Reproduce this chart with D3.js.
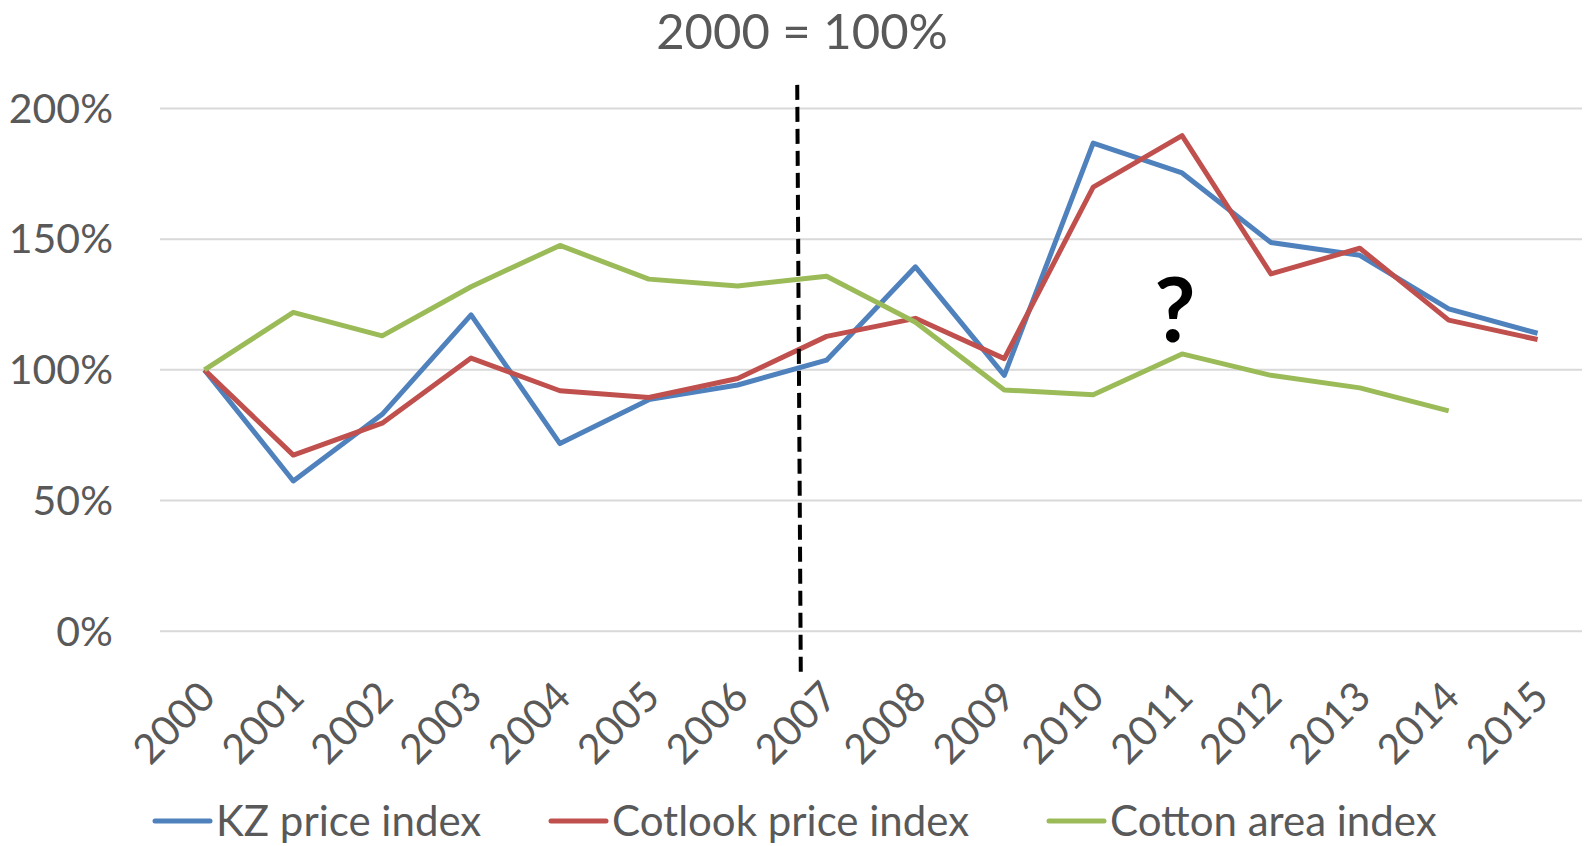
<!DOCTYPE html>
<html>
<head>
<meta charset="utf-8">
<script src="https://cdn.jsdelivr.net/npm/d3@7"></script>
<style>
  body { margin: 0; background: #fff; }
  text { font-family: Lato, "Open Sans", sans-serif; fill: #595959; }
</style>
</head>
<body>
<div class="chart"></div>
<script>
// data
var years = ["2000","2001","2002","2003","2004","2005","2006","2007","2008","2009","2010","2011","2012","2013","2014","2015"];
var kzPrice = [100, 57.5, 83, 121, 71.8, 88.6, 94.2, 103.7, 139.4, 97.9, 186.7, 175.3, 148.7, 143.8, 123.3, 114];
var cotlookPrice = [100, 67.4, 79.6, 104.5, 92, 89.4, 96.7, 112.8, 119.7, 104.3, 169.9, 189.6, 136.7, 146.5, 119, 111.6];
var cottonArea = [100, 122, 113, 131.8, 147.6, 134.7, 132.1, 135.8, 118.2, 92.3, 90.5, 106.1, 97.9, 93.1, 84.3, null];
var yTicks = [0, 50, 100, 150, 200];
var seriesNames = ["KZ price index", "Cotlook price index", "Cotton area index"];
var seriesColors = ["#4f81bd", "#c0504d", "#9bbb59"];

var width = 1589, height = 846;
var svg = d3.select(".chart").append("svg")
  .attr("width", width)
  .attr("height", height);

// scales
var x = d3.scalePoint().domain(years).range([160, 1582]).padding(0.5);
var y = d3.scaleLinear().domain([0, 200]).range([631.3, 108.4]);

// title
svg.append("text")
  .attr("x", 802).attr("y", 49)
  .attr("text-anchor", "middle")
  .style("font-size", "49px")
  .text("2000 = 100%");

// gridlines
svg.append("g").selectAll("line")
  .data(yTicks).enter().append("line")
  .attr("x1", 160).attr("x2", 1582)
  .attr("y1", d => y(d)).attr("y2", d => y(d))
  .attr("stroke", "#d9d9d9").attr("stroke-width", 2);

// y labels
svg.append("g").selectAll("text")
  .data(yTicks).enter().append("text")
  .attr("x", 113).attr("y", d => y(d))
  .attr("dy", "0.35em")
  .attr("text-anchor", "end")
  .style("font-size", "41px")
  .text(d => d + "%");

// x labels
svg.append("g").selectAll("text")
  .data(years).enter().append("text")
  .attr("transform", d => "translate(" + (x(d) + 3) + ",689) rotate(-45)")
  .attr("dy", "0.35em")
  .attr("text-anchor", "end")
  .style("font-size", "41px")
  .text(d => d);

// lines
var allSeries = [kzPrice, cotlookPrice, cottonArea];
var line = d3.line()
  .defined(d => d != null)
  .x((d, i) => x(years[i]))
  .y(d => y(d));

svg.append("g").selectAll("path")
  .data(allSeries).enter().append("path")
  .attr("d", d => line(d))
  .attr("fill", "none")
  .attr("stroke", (d, i) => seriesColors[i])
  .attr("stroke-width", 5)
  .attr("stroke-linejoin", "round");

// dashed divider, a bit before 2007
var step = x.step();
svg.append("line")
  .attr("x1", x("2006") + step * 0.67).attr("y1", y(209))
  .attr("x2", x("2006") + step * 0.71).attr("y2", y(-16))
  .attr("stroke", "#000")
  .attr("stroke-width", 4)
  .attr("stroke-dasharray", "15,7");

// question mark
svg.append("text")
  .attr("x", x("2011") - 7).attr("y", y(110.6))
  .attr("text-anchor", "middle")
  .style("font-size", "90px")
  .style("font-weight", "bold")
  .style("fill", "#000")
  .text("?");

// legend
var legendX = [155, 551, 1049];
var legend = svg.append("g").selectAll("g")
  .data(seriesNames).enter().append("g")
  .attr("transform", (d, i) => "translate(" + legendX[i] + ",821)");
legend.append("line")
  .attr("x1", 0).attr("x2", 55)
  .attr("stroke", (d, i) => seriesColors[i])
  .attr("stroke-width", 5)
  .attr("stroke-linecap", "round");
legend.append("text")
  .attr("x", 61).attr("dy", "0.35em")
  .style("font-size", "42px")
  .text(d => d);
</script>
</body>
</html>
